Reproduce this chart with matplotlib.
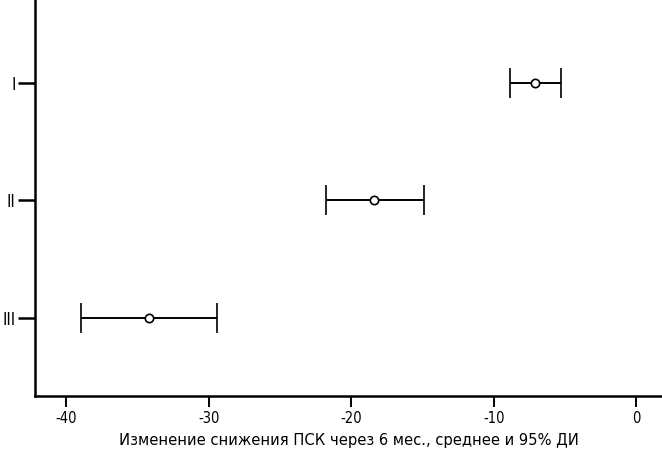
import matplotlib
matplotlib.use("Agg")
import matplotlib.pyplot as plt
from matplotlib import font_manager

# groups and their mean change with 95% CI bounds
groups = ["I", "II", "III"]
means = [-7.1, -18.4, -34.2]
ci_low = [-8.9, -21.8, -39.0]
ci_high = [-5.3, -14.9, -29.4]
xticks = [-40, -30, -20, -10, 0]
xlabel = "Изменение снижения ПСК через 6 мес., среднее и 95% ДИ"

names = {f.name for f in font_manager.fontManager.ttflist}
if "Liberation Sans Narrow" in names:
    plt.rcParams["font.family"] = ["Liberation Sans Narrow", "DejaVu Sans"]
else:
    plt.rcParams["font.family"] = ["DejaVu Sans"]
    plt.rcParams["font.stretch"] = "condensed"

fig = plt.figure(figsize=(6.62, 4.57), dpi=100)
ax = fig.add_axes([35 / 662, 61 / 457, 1 - 35 / 662, 1 - 61 / 457])

ypos = list(range(1, len(groups) + 1))
xerr = [[m - lo for m, lo in zip(means, ci_low)],
        [hi - m for m, hi in zip(means, ci_high)]]
ax.errorbar(means, ypos, xerr=xerr, fmt="o", color="black", mfc="white",
            mec="black", ms=6, mew=1.2, elinewidth=1.4, capsize=11, capthick=1.4)

ax.set_xlim(-42.2, 1.8)
ax.set_ylim(3.67, 0.29)
ax.set_yticks(ypos)
ax.set_yticklabels(groups, fontsize=12)
ax.set_xticks(xticks)
ax.set_xticklabels([str(t) for t in xticks], fontsize=10.5)
ax.set_xlabel(xlabel, fontsize=11.8, labelpad=5)

for s in ["top", "right"]:
    ax.spines[s].set_visible(False)
for s in ["left", "bottom"]:
    ax.spines[s].set_linewidth(1.8)
ax.tick_params(axis="y", length=12, width=1.8, pad=2)
ax.tick_params(axis="x", length=8, width=1.4, pad=3)

fig.savefig("out.png", dpi=100)
